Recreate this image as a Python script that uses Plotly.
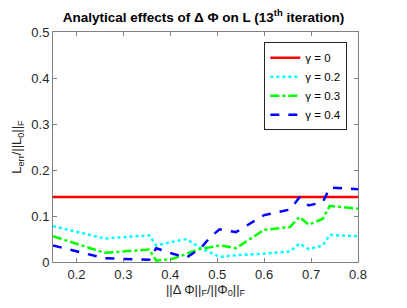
import plotly.graph_objects as go

x = [0.15, 0.26, 0.355, 0.37, 0.405, 0.435, 0.465, 0.485, 0.505, 0.54, 0.60,
     0.655, 0.675, 0.695, 0.725, 0.74, 0.80]
g0 = [0.1413] * len(x)
g02 = [0.078, 0.051, 0.058, 0.036, 0.044, 0.050, 0.030, 0.020, 0.011, 0.015, 0.018,
       0.023, 0.040, 0.028, 0.036, 0.059, 0.056]
g03 = [0.056, 0.020, 0.027, 0.003, 0.007, 0.018, 0.029, 0.032, 0.036, 0.030, 0.070,
       0.076, 0.098, 0.081, 0.094, 0.122, 0.116]
g04 = [0.036, 0.008, 0.005, 0.030, 0.018, 0.010, 0.030, 0.054, 0.071, 0.065, 0.102,
       0.114, 0.140, 0.123, 0.130, 0.162, 0.158]
names = ["γ = 0", "γ = 0.2", "γ = 0.3", "γ = 0.4"]
colors = ["#ff0000", "#00ffff", "#00ff00", "#0000ff"]
dashes = ["solid", "dot", "dashdot", "dash"]
series = [g0, g02, g03, g04]

fig = go.Figure()
for s, n, c, d in zip(series, names, colors, dashes):
    fig.add_trace(go.Scatter(x=x, y=s, mode="lines", name=n,
                             line=dict(color=c, width=2.5, dash=d)))

FONT = "Liberation Sans, Arial"
axis_common = dict(showgrid=False, zeroline=False, showline=True, mirror="ticks",
                   linecolor="#808080", linewidth=1, ticks="inside", ticklen=4,
                   tickcolor="#808080", automargin=False,
                   tickfont=dict(family=FONT, size=13, color="#262626"))
fig.update_layout(
    width=407, height=308,
    margin=dict(l=53, r=49, t=32, b=46),
    paper_bgcolor="white", plot_bgcolor="white",
    title=dict(text="<b>Analytical effects of Δ Φ on L (13<sup>th</sup> iteration)</b>",
               x=0.5, xanchor="center", y=0.945, yanchor="middle",
               font=dict(family=FONT, size=13.5, color="black")),
    xaxis=dict(range=[0.15, 0.8], tickvals=[0.2, 0.3, 0.4, 0.5, 0.6, 0.7, 0.8],
               ticktext=["0.2", "0.3", "0.4", "0.5", "0.6", "0.7", "0.8"],
               title=dict(text="||Δ Φ||<sub>F</sub>/||Φ<sub>0</sub>||<sub>F</sub>",
                          standoff=2,
                          font=dict(family=FONT, size=13, color="#262626")),
               **axis_common),
    yaxis=dict(range=[0, 0.5], tickvals=[0, 0.1, 0.2, 0.3, 0.4, 0.5],
               ticktext=["0", "0.1", "0.2", "0.3", "0.4", "0.5"],
               title=dict(text="L<sub>err</sub>/||L<sub>0</sub>||<sub>F</sub>",
                          standoff=6,
                          font=dict(family=FONT, size=13, color="#262626")),
               **axis_common),
    legend=dict(x=0.965, y=0.955, xanchor="right", yanchor="top",
                bgcolor="white", bordercolor="#262626", borderwidth=1,
                font=dict(family=FONT, size=11.5, color="black"),
                tracegroupgap=0, itemwidth=30),
    showlegend=True,
)
fig.write_html("out.html", config={"displayModeBar": False},
               post_script="document.body.style.margin='0';")
